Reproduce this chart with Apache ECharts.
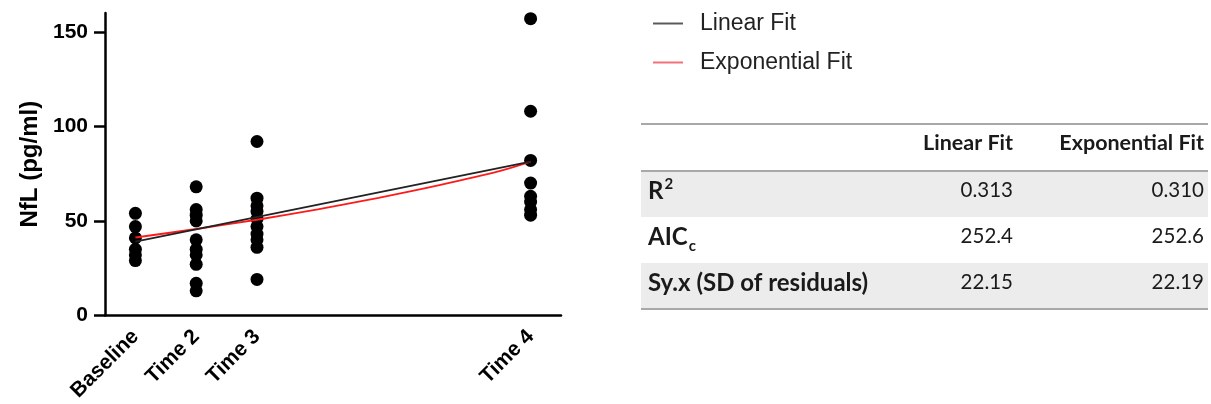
<!DOCTYPE html>
<html>
<head>
<meta charset="utf-8">
<script src="https://cdn.jsdelivr.net/npm/echarts@6/dist/echarts.min.js"></script>
<style>
  html, body { margin: 0; padding: 0; background: #fff; }
  #chart { width: 1211px; height: 404px; }
</style>
</head>
<body>
<div id="chart"></div>
<script>
// ---- data ----
const timeLabels = ['Baseline', 'Time 2', 'Time 3', 'Time 4'];
const timeMonths = [0, 6, 12, 39];
const baselineNfL = [54, 47, 41, 35, 32, 29];
const time2NfL = [68, 56, 53, 50, 40, 35, 32, 27, 17, 13];
const time3NfL = [92, 62, 58, 55, 51, 47, 43, 40, 36, 19];
const time4NfL = [157, 108, 82, 70, 63, 60, 56, 53];
const linearFitX = [0, 39];
const linearFitY = [39, 81.3];
const expFitX = [0, 6, 12, 18, 24, 30, 36, 39];
const expFitY = [41.2, 45.7, 50.6, 56.1, 62.2, 68.9, 76.4, 81.3];
const yTicks = [0, 50, 100, 150];
const seriesNames = ['Linear Fit', 'Exponential Fit'];
const tableHeader = ['Linear Fit', 'Exponential Fit'];
const statLabels = ['{b|R}{sup|2}', '{b|AIC}{sub|c}', '{b|Sy.x (SD of residuals)}'];
const linearStats = ['0.313', '252.4', '22.15'];
const expStats = ['0.310', '252.6', '22.19'];

// ---- build ----
const groups = [baselineNfL, time2NfL, time3NfL, time4NfL];
const scatterData = [];
groups.forEach((g, i) => g.forEach(v => scatterData.push([timeMonths[i], v])));
const linData = linearFitX.map((x, i) => [x, linearFitY[i]]);
const expData = expFitX.map((x, i) => [x, expFitY[i]]);

const AX = 'Liberation Sans, Arial, sans-serif';
const TF = 'Lato, sans-serif';

// table geometry
const tL = 641, tR = 1208, tTop = 124, headH = 47, rowH = 46;
const col1R = 1013, col2R = 1204, labelX = 648;
const graphics = [];
statLabels.forEach((s, i) => {
  const top = tTop + headH + i * rowH;
  graphics.push({ type: 'rect', shape: { x: tL, y: top, width: tR - tL, height: rowH },
    style: { fill: i % 2 === 0 ? '#ececec' : '#ffffff' }, z: 1 });
});
[tTop, tTop + headH, tTop + headH + rowH * statLabels.length].forEach(y => {
  graphics.push({ type: 'line', shape: { x1: tL, y1: y, x2: tR, y2: y },
    style: { stroke: '#a8a8a8', lineWidth: 2 }, z: 2 });
});
const textBase = { fontFamily: TF, fontSize: 20.5, fill: '#1a1a1a', verticalAlign: 'middle' };
graphics.push({ type: 'text', x: col1R, y: tTop + 19, z: 3,
  style: Object.assign({}, textBase, { text: tableHeader[0], fontWeight: 'bold', fontSize: 21.5, align: 'right' }) });
graphics.push({ type: 'text', x: col2R, y: tTop + 19, z: 3,
  style: Object.assign({}, textBase, { text: tableHeader[1], fontWeight: 'bold', fontSize: 21.5, align: 'right' }) });
statLabels.forEach((s, i) => {
  const cy = tTop + headH + i * rowH + 19;
  graphics.push({ type: 'text', x: labelX, y: cy, z: 3,
    style: Object.assign({}, textBase, { text: s, align: 'left',
      rich: {
        b: { fontFamily: TF, fontSize: 24, fontWeight: 'bold', fill: '#1a1a1a', lineHeight: 26, verticalAlign: 'bottom' },
        sup: { fontFamily: TF, fontSize: 15, fontWeight: 'bold', fill: '#1a1a1a', lineHeight: 15, verticalAlign: 'top', padding: [0, 0, 0, 1] },
        sub: { fontFamily: TF, fontSize: 15, fontWeight: 'bold', fill: '#1a1a1a', lineHeight: 15, verticalAlign: 'bottom', padding: [0, 0, -5, 1] }
      } }) });
  graphics.push({ type: 'text', x: col1R, y: cy, z: 3,
    style: Object.assign({}, textBase, { text: linearStats[i], align: 'right' }) });
  graphics.push({ type: 'text', x: col2R, y: cy, z: 3,
    style: Object.assign({}, textBase, { text: expStats[i], align: 'right' }) });
});

const chart = echarts.init(document.getElementById('chart'), null, { renderer: 'canvas' });
chart.setOption({
  animation: false,
  backgroundColor: '#fff',
  grid: { left: 105, right: 650, top: 13, bottom: 88, containLabel: false },
  legend: {
    orient: 'vertical', left: 648, top: 7, itemGap: 16, itemWidth: 30, itemHeight: 2,
    icon: 'rect',
    data: [
      { name: seriesNames[0], itemStyle: { color: '#5a5a5a' } },
      { name: seriesNames[1], itemStyle: { color: '#f2707a' } }
    ],
    textStyle: { fontFamily: AX, fontSize: 23, color: '#222', padding: [0, 0, 0, 12] }
  },
  xAxis: {
    type: 'value', min: -3, max: 42,
    axisLine: { show: true, onZero: false, lineStyle: { color: '#000', width: 2.5 } },
    axisTick: { show: false },
    splitLine: { show: false },
    axisLabel: {
      customValues: timeMonths,
      formatter: v => timeLabels[timeMonths.indexOf(v)] || '',
      rotate: 45, margin: 18, color: '#000', fontFamily: AX, fontWeight: 'bold', fontSize: 21
    }
  },
  yAxis: {
    type: 'value', min: 0, max: 160,
    name: 'NfL (pg/ml)', nameLocation: 'middle', nameGap: 63,
    nameTextStyle: { fontFamily: AX, fontWeight: 'bold', fontSize: 24, color: '#000' },
    axisLine: { show: true, onZero: false, lineStyle: { color: '#000', width: 2.5 } },
    axisTick: { show: true, customValues: yTicks, length: 11, lineStyle: { color: '#000', width: 2.5 } },
    splitLine: { show: false },
    axisLabel: { customValues: yTicks, margin: 17, color: '#000', fontFamily: AX, fontWeight: 'bold', fontSize: 21 }
  },
  series: [
    { name: 'data', type: 'scatter', data: scatterData, symbolSize: 13,
      itemStyle: { color: '#000', opacity: 1 }, z: 2 },
    { name: seriesNames[0], type: 'line', data: linData, showSymbol: false,
      lineStyle: { color: '#222', width: 1.8 }, itemStyle: { color: '#5a5a5a' }, z: 4 },
    { name: seriesNames[1], type: 'line', data: expData, showSymbol: false, smooth: 0.3,
      lineStyle: { color: '#ff1a1a', width: 1.8 }, itemStyle: { color: '#f2707a' }, z: 3 }
  ],
  graphic: { elements: graphics }
});
</script>
</body>
</html>
